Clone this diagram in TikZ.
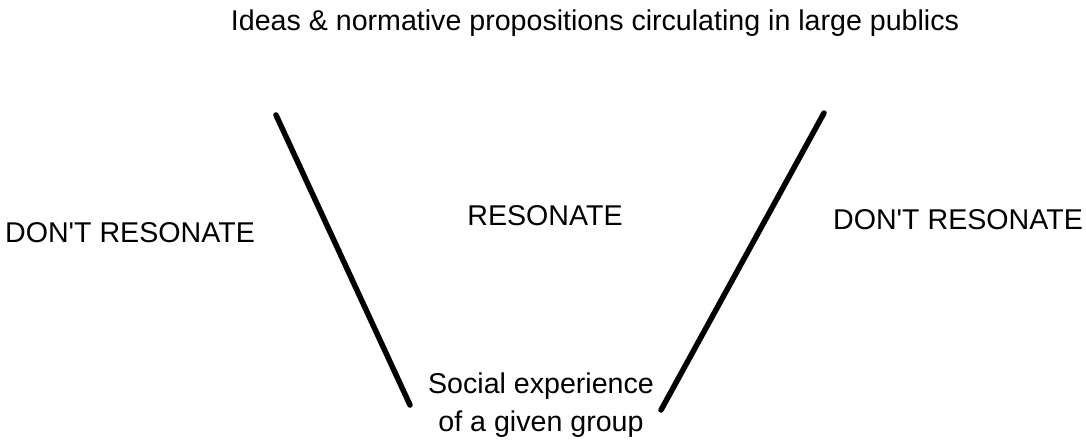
\documentclass[tikz,border=0pt]{standalone}
\usepackage{fontspec}
\setmainfont{Liberation Sans}
\begin{document}
\begin{tikzpicture}[x=1pt,y=-1pt,
  lbl/.style={font=\fontsize{28.6}{38}\selectfont, inner sep=0pt, anchor=base},
  vline/.style={line width=5.5pt, line cap=round}]
\useasboundingbox[fill=white] (0,0) rectangle (1086,439);
\node[lbl] (ideas) at (595,30) {Ideas \& normative propositions circulating in large publics};
\node[lbl] (dl) at (130,242) {DON\textquotesingle T RESONATE};
\node[lbl] (res) at (545,225) {RESONATE};
\node[lbl] (dr) at (958,229) {DON\textquotesingle T RESONATE};
\node[lbl, align=center] (soc) at (541,431) {Social experience\\of a given group};
\coordinate (l1) at (276,115);
\coordinate (l2) at (410,405);
\coordinate (r1) at (824,113);
\coordinate (r2) at (661,410);
\draw[vline] (l1) -- (l2);
\draw[vline] (r1) -- (r2);
\end{tikzpicture}
\end{document}
